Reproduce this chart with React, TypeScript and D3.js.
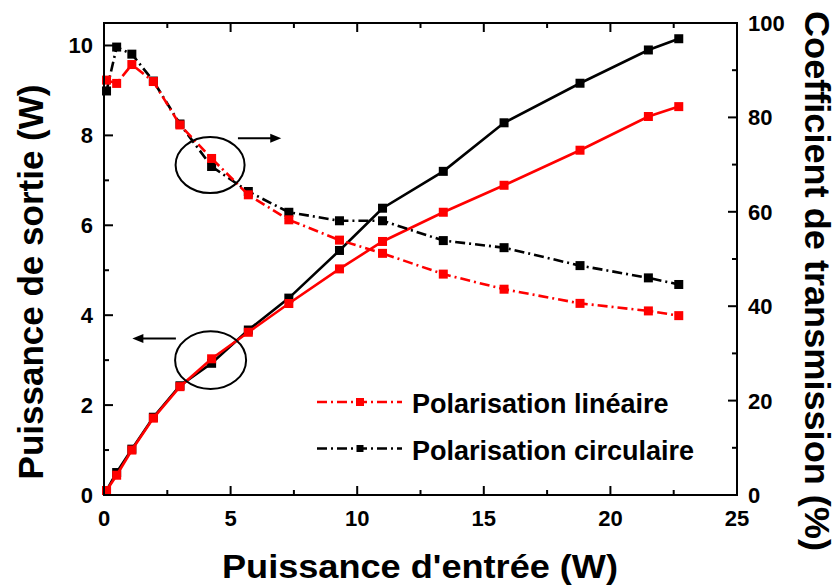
import React from "react";
import * as d3 from "d3";

const inputPower = [0.1, 0.5, 1.1, 1.95, 3.0, 4.25, 5.7, 7.3, 9.3, 11.0, 13.4, 15.8, 18.8, 21.5, 22.7];
const outLinear = [0.1, 0.44, 1.0, 1.71, 2.41, 3.03, 3.62, 4.26, 5.03, 5.64, 6.29, 6.89, 7.67, 8.42, 8.64];
const outCircular = [0.1, 0.5, 1.02, 1.73, 2.43, 2.93, 3.67, 4.38, 5.44, 6.38, 7.2, 8.28, 9.16, 9.9, 10.15];
const transLinear = [87.9, 87.2, 91.2, 87.6, 78.4, 71.3, 63.6, 58.3, 54.0, 51.2, 46.8, 43.6, 40.6, 39.0, 38.0];
const transCircular = [85.6, 94.9, 93.4, 87.7, 78.6, 69.6, 64.3, 59.9, 58.1, 58.1, 53.9, 52.4, 48.6, 46.0, 44.6];

const xTicks = [0, 5, 10, 15, 20, 25];
const xMinor = [2.5, 7.5, 12.5, 17.5, 22.5];
const yLeftTicks = [0, 2, 4, 6, 8, 10];
const yLeftMinor = [1, 3, 5, 7, 9];
const yRightTicks = [0, 20, 40, 60, 80, 100];
const yRightMinor = [10, 30, 50, 70, 90];

const legendLabels = ["Polarisation linéaire", "Polarisation circulaire"];
const xTitle = "Puissance d'entrée (W)";
const yLeftTitle = "Puissance de sortie (W)";
const yRightTitle = "Coefficient de transmission (%)";

const W = 839, H = 587;
const L = 104, R = 737, T = 23, B = 495;
const FONT = "'Liberation Sans', Arial, sans-serif";
const RED = "#ff0000";
const BLACK = "#000000";
const DASHDOT = "10,4,2,4";

export default function App() {
  const x = d3.scaleLinear().domain([0, 25]).range([L, R]);
  const yL = d3.scaleLinear().domain([0, 10.5]).range([B, T]);
  const yR = d3.scaleLinear().domain([0, 100]).range([B, T]);

  const series = [
    { vals: outLinear, y: yL, color: RED, dash: undefined as string | undefined },
    { vals: outCircular, y: yL, color: BLACK, dash: undefined },
    { vals: transCircular, y: yR, color: BLACK, dash: DASHDOT },
    { vals: transLinear, y: yR, color: RED, dash: DASHDOT },
  ];
  const order = [1, 0, 2, 3];

  const ms = 9;
  const tickMaj = 9, tickMin = 5;

  return (
    <svg width={W} height={H} style={{ position: "absolute", left: 0, top: 0 }} fontFamily={FONT}>
      <rect x={0} y={0} width={W} height={H} fill="#fff" />
      {order.map((i) => {
        const s = series[i];
        const line = d3
          .line<number>()
          .x((_, j) => x(inputPower[j]))
          .y((d) => s.y(d));
        return (
          <g key={i}>
            <path d={line(s.vals) || ""} fill="none" stroke={s.color} strokeWidth={2.6} strokeDasharray={s.dash} />
            {s.vals.map((v, j) => (
              <rect key={j} x={x(inputPower[j]) - ms / 2} y={s.y(v) - ms / 2} width={ms} height={ms} fill={s.color} />
            ))}
          </g>
        );
      })}

      {/* annotations */}
      <ellipse cx={x(4.19)} cy={yR(69.9)} rx={34.5} ry={28} fill="none" stroke={BLACK} strokeWidth={2} />
      <ellipse cx={x(4.21)} cy={yL(3.0)} rx={35.5} ry={28.8} fill="none" stroke={BLACK} strokeWidth={2} />
      {(() => {
        const a1y = yR(75.6);
        const a1x0 = x(5.29), a1x1 = x(7.0);
        const a2y = yL(3.48);
        const a2x0 = x(2.84), a2x1 = x(1.12);
        return (
          <g>
            <line x1={a1x0} y1={a1y} x2={a1x1 - 9} y2={a1y} stroke={BLACK} strokeWidth={2} />
            <path d={`M${a1x1},${a1y} L${a1x1 - 11},${a1y - 4.5} L${a1x1 - 11},${a1y + 4.5} Z`} fill={BLACK} />
            <line x1={a2x0} y1={a2y} x2={a2x1 + 9} y2={a2y} stroke={BLACK} strokeWidth={2} />
            <path d={`M${a2x1},${a2y} L${a2x1 + 11},${a2y - 4.5} L${a2x1 + 11},${a2y + 4.5} Z`} fill={BLACK} />
          </g>
        );
      })()}

      {/* frame */}
      <rect x={L} y={T} width={R - L} height={B - T} fill="none" stroke={BLACK} strokeWidth={2} />

      {xTicks.map((t) => (
        <g key={"x" + t}>
          <line x1={x(t)} x2={x(t)} y1={B} y2={B - tickMaj} stroke={BLACK} strokeWidth={2} />
          <line x1={x(t)} x2={x(t)} y1={T} y2={T + tickMaj} stroke={BLACK} strokeWidth={2} />
          <text x={x(t)} y={526} textAnchor="middle" fontSize={22} fontWeight="bold">{t}</text>
        </g>
      ))}
      {xMinor.map((t) => (
        <g key={"xm" + t}>
          <line x1={x(t)} x2={x(t)} y1={B} y2={B - tickMin} stroke={BLACK} strokeWidth={2} />
          <line x1={x(t)} x2={x(t)} y1={T} y2={T + tickMin} stroke={BLACK} strokeWidth={2} />
        </g>
      ))}
      {yLeftTicks.map((t) => (
        <g key={"yl" + t}>
          <line x1={L} x2={L + tickMaj} y1={yL(t)} y2={yL(t)} stroke={BLACK} strokeWidth={2} />
          <text x={93} y={yL(t) + 8} textAnchor="end" fontSize={22} fontWeight="bold">{t}</text>
        </g>
      ))}
      {yLeftMinor.map((t) => (
        <line key={"ylm" + t} x1={L} x2={L + tickMin} y1={yL(t)} y2={yL(t)} stroke={BLACK} strokeWidth={2} />
      ))}
      {yRightTicks.map((t) => (
        <g key={"yr" + t}>
          <line x1={R} x2={R - tickMaj} y1={yR(t)} y2={yR(t)} stroke={BLACK} strokeWidth={2} />
          <text x={748} y={yR(t) + 8} textAnchor="start" fontSize={22} fontWeight="bold">{t}</text>
        </g>
      ))}
      {yRightMinor.map((t) => (
        <line key={"yrm" + t} x1={R} x2={R - tickMin} y1={yR(t)} y2={yR(t)} stroke={BLACK} strokeWidth={2} />
      ))}

      {/* titles */}
      <text x={420} y={578} textAnchor="middle" fontSize={34} fontWeight="bold" textLength={396} lengthAdjust="spacingAndGlyphs">{xTitle}</text>
      <text transform={`translate(43,282) rotate(-90)`} textAnchor="middle" fontSize={35} fontWeight="bold">{yLeftTitle}</text>
      <text transform={`translate(805,281) rotate(90)`} textAnchor="middle" fontSize={35} fontWeight="bold" textLength={540} lengthAdjust="spacingAndGlyphs">{yRightTitle}</text>

      {/* legend */}
      {legendLabels.map((lab, i) => {
        const cy = 402 + i * 46.5;
        const col = i === 0 ? RED : BLACK;
        const m = i === 0 ? 8 : 7;
        return (
          <g key={lab}>
            <line x1={317} x2={402} y1={cy} y2={cy} stroke={col} strokeWidth={2.6} strokeDasharray={DASHDOT} />
            <rect x={360 - m / 2} y={cy - m / 2} width={m} height={m} fill={col} />
            <text x={412} y={cy + 11} fontSize={27} fontWeight="bold">{lab}</text>
          </g>
        );
      })}
    </svg>
  );
}
